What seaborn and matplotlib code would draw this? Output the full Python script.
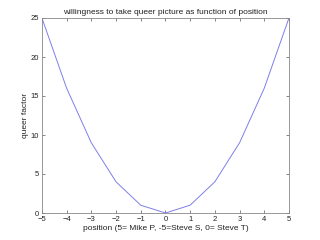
import matplotlib
matplotlib.use("Agg")
import matplotlib.pyplot as plt
import seaborn as sns
import pandas as pd

position = [-5, -4, -3, -2, -1, 0, 1, 2, 3, 4, 5]
queer_factor = [25, 16, 9, 4, 1, 0, 1, 4, 9, 16, 25]
x_ticks = [-5, -4, -3, -2, -1, 0, 1, 2, 3, 4, 5]
y_ticks = [0, 5, 10, 15, 20, 25]

sns.set_style("white")
plt.rcParams['font.family'] = ['Liberation Sans', 'DejaVu Sans']

df = pd.DataFrame({"position": position, "queer": queer_factor})

fig = plt.figure(figsize=(3.2, 2.4), dpi=100)
ax = fig.add_axes([0.131, 0.1125, 0.772, 0.8125])
sns.lineplot(data=df, x="position", y="queer", ax=ax, color="#7f7fe8", linewidth=0.7)

ax.set_xlim(-5, 5)
ax.set_ylim(0, 25)
ax.set_xticks(x_ticks)
ax.set_yticks(y_ticks)
ax.tick_params(direction="in", length=2.5, width=0.5, labelsize=5.5, pad=2,
               top=True, right=True, bottom=True, left=True, colors="#555555", labelcolor="#222222")
for s in ax.spines.values():
    s.set_visible(True)
    s.set_linewidth(0.6)
    s.set_color("#888888")
ax.set_xlabel("position (5= Mike P, -5=Steve S, 0= Steve T)", fontsize=6, labelpad=1.5, color="#222222")
ax.set_ylabel("queer factor", fontsize=6, labelpad=1, color="#222222")
ax.set_title("willingness to take queer picture as function of position", fontsize=6, pad=3, color="#222222")

fig.savefig("out.png", dpi=100, facecolor="white")
